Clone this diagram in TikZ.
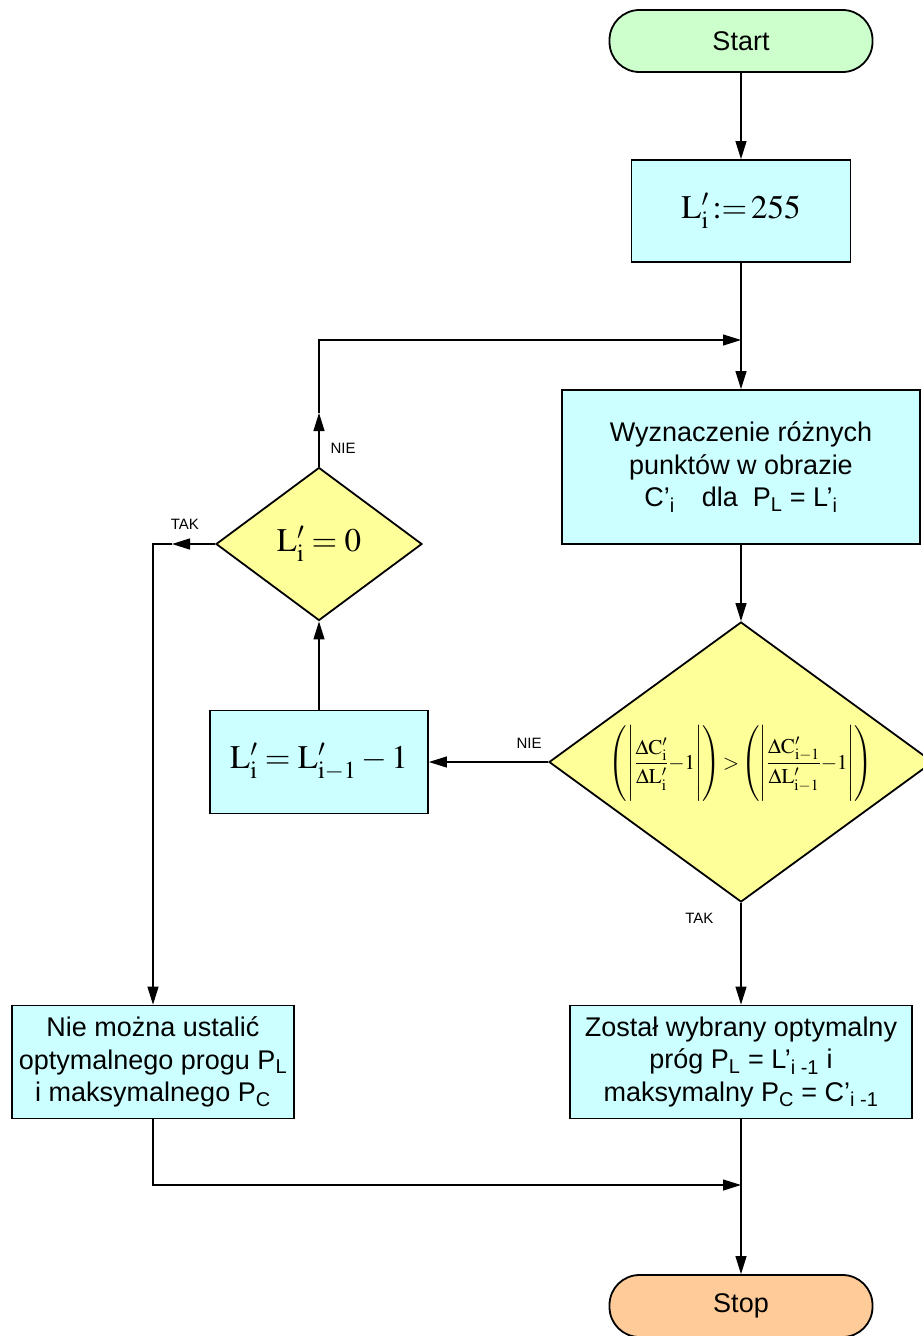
\documentclass[tikz,border=0pt]{standalone}
\usepackage{amsmath}
\usepackage{mathptmx}
\usepackage[no-math]{fontspec}
\setmainfont{Liberation Sans}
\usetikzlibrary{arrows.meta, positioning, shapes.geometric}

\definecolor{boxcyan}{HTML}{CCFFFF}
\definecolor{decyellow}{HTML}{FFFF99}
\definecolor{startgreen}{HTML}{CCFFCC}
\definecolor{stoporange}{HTML}{FFCC99}

\newcommand{\Lp}[1]{\mathrm{L}'_{\mathrm{#1}}}
\newcommand{\Cp}[1]{\mathrm{C}'_{\mathrm{#1}}}
\newcommand{\tallstrut}{\rule[-34pt]{0pt}{78pt}}

\begin{document}
\begin{tikzpicture}[x=1pt, y=-1pt,
    proc/.style={draw, line width=1.8pt, fill=boxcyan, align=center, inner sep=0pt,
        font=\fontsize{27}{32.5}\selectfont},
    term/.style={draw, line width=1.8pt, rounded corners=30pt, minimum width=263pt,
        minimum height=62pt, font=\fontsize{27}{30}\selectfont},
    decision/.style={draw, diamond, line width=1.8pt, fill=decyellow, inner sep=0pt},
    flow/.style={line width=1.2pt, -{Triangle[length=18pt, width=11pt]}},
    wire/.style={line width=1.2pt},
    tag/.style={font=\fontsize{15}{15}\selectfont, inner sep=1pt}]
    \useasboundingbox (0,0) rectangle (923,1336);

    % right column
    \node[term, fill=startgreen] (start) at (741,41) {Start};
    \node[proc, minimum width=219pt, minimum height=102pt, font=\fontsize{33}{33}\selectfont]
        (init) at (741,211) {$\Lp{i}\!:=\!255$};
    \coordinate (join) at (741,340);
    \node[proc, minimum width=358pt, minimum height=154pt] (count) at (741,467)
        {Wyznaczenie różnych\\punktów w obrazie\\C’\textsubscript{i}\quad dla\ \ P\textsubscript{L} = L’\textsubscript{i}};
    \node[decision, minimum width=384pt, minimum height=280pt, font=\fontsize{21}{24}\selectfont]
        (cmp) at (741,762)
        {\smash{\raisebox{-7pt}{$\left(\left|\tallstrut\dfrac{\Delta\Cp{i}}{\Delta\Lp{i}}{-}1\right|\right){>}\left(\left|\tallstrut\dfrac{\Delta\Cp{i-1}}{\Delta\Lp{i-1}}{-}1\right|\right)$}}};
    \node[proc, minimum width=342pt, minimum height=113pt] (found) at (741,1062)
        {Został wybrany optymalny\\próg P\textsubscript{L} = L’\textsubscript{i -1} i\\maksymalny P\textsubscript{C} = C’\textsubscript{i -1}};
    \node[term, fill=stoporange] (stop) at (741,1306) {Stop};

    % left column
    \node[proc, minimum width=218pt, minimum height=103pt, font=\fontsize{33}{33}\selectfont]
        (dec) at (319,762) {$\Lp{i}=\Lp{i-1}-1$};
    \node[decision, minimum width=206pt, minimum height=153pt, font=\fontsize{33}{33}\selectfont]
        (zero) at (319,544) {$\Lp{i}=0$};
    \node[proc, minimum width=282pt, minimum height=113pt] (fail) at (153,1062)
        {Nie można ustalić\\optymalnego progu P\textsubscript{L}\\i maksymalnego P\textsubscript{C}};

    % bends
    \coordinate (nietip) at (319,413);
    \coordinate (niecorner) at (319,340);
    \coordinate (taktip) at (172,544);
    \coordinate (takcorner) at (153,544);
    \coordinate (merge) at (153,1185);
    \coordinate (mergeend) at (741,1185);

    \draw[flow] (start) -- (init);
    \draw[wire] (init) -- (join);
    \draw[flow] (join) -- (count);
    \draw[flow] (count) -- (cmp);
    \draw[flow] (cmp.west) -- node[tag, pos=0.16, above=12pt] {NIE} (dec.east);
    \draw[flow] (dec) -- (zero);
    \draw[flow] (zero.north) -- node[tag, pos=0.35, right=10pt] {NIE} (nietip);
    \draw[flow] (nietip) -- (niecorner) -- (join);
    \draw[flow] (zero.west) -- node[tag, pos=0.7, above=13pt] {TAK} (taktip);
    \draw[flow] (taktip) -- (takcorner) -- (fail.north);
    \draw[flow] (cmp.south) -- node[tag, pos=0.155, left=26pt] {TAK} (found.north);
    \draw[flow] (found) -- (stop);
    \draw[flow] (fail.south) -- (merge) -- (mergeend);
\end{tikzpicture}
\end{document}
